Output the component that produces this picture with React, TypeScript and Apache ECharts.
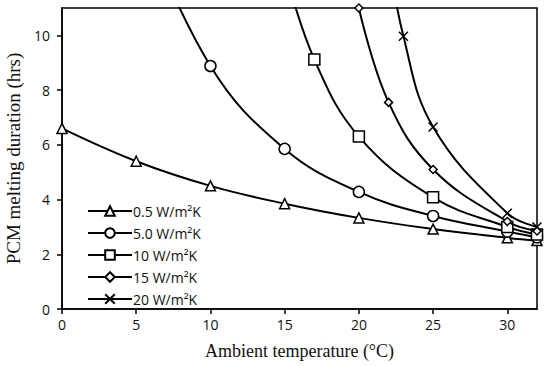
import React, { useEffect, useRef } from "react";
import * as echarts from "echarts";

const seriesNames = ["0.5 W/m²K", "5.0 W/m²K", "10 W/m²K", "15 W/m²K", "20 W/m²K"];
const s05: [number, number][] = [[0, 6.6], [5, 5.4], [10, 4.5], [15, 3.85], [20, 3.33], [25, 2.92], [30, 2.6], [32, 2.5]];
const s50: [number, number][] = [[5, 14.7], [10, 8.88], [15, 5.85], [20, 4.28], [25, 3.4], [30, 2.83], [32, 2.62]];
const s10: [number, number][] = [[15, 12.4], [17, 9.12], [20, 6.3], [25, 4.08], [30, 3.0], [32, 2.72]];
const s15: [number, number][] = [[20, 11.0], [22, 7.55], [25, 5.1], [30, 3.2], [32, 2.85]];
const s20: [number, number][] = [[22, 13.0], [23, 9.97], [25, 6.65], [30, 3.5], [32, 3.0]];
const allData = [s05, s50, s10, s15, s20];
const symbols = ["triangle", "circle", "rect", "diamond", "path://M0,0L10,10M10,0L0,10"];
const symbolSizes = [10, 11, 11, 8, 9];

export default function App() {
  const ref = useRef<HTMLDivElement>(null);
  useEffect(() => {
    const chart = echarts.init(ref.current!, null, { renderer: "svg" });
    chart.setOption({
      animation: false,
      backgroundColor: "#fff",
      grid: {
        left: 62, top: 8, right: 13, bottom: 57,
        containLabel: false, outerBoundsMode: "none",
        show: true, borderColor: "#000", borderWidth: 1.5,
      },
      legend: {
        left: 82,
        top: 199,
        orient: "vertical",
        itemWidth: 44,
        itemHeight: 12,
        itemGap: 8,
        textStyle: { fontFamily: "Open Sans", fontSize: 14, color: "#111", padding: [0, 0, 0, -4] },
        data: seriesNames,
      },
      xAxis: {
        type: "value",
        min: 0,
        max: 32,
        interval: 5,
        name: "Ambient temperature (°C)",
        nameLocation: "middle",
        nameGap: 33,
        nameTextStyle: { fontFamily: "Liberation Serif", fontSize: 18, color: "#111" },
        axisLine: { lineStyle: { color: "#000", width: 1.5 } },
        axisTick: { show: true, inside: false, length: 5, lineStyle: { color: "#000", width: 1.5 } },
        axisLabel: { fontFamily: "Open Sans", fontSize: 14, color: "#111", showMaxLabel: false, margin: 8 },
        splitLine: { show: false },
      },
      yAxis: {
        type: "value",
        min: 0,
        max: 11,
        interval: 2,
        name: "PCM melting duration (hrs)",
        nameLocation: "middle",
        nameGap: 34,
        nameTextStyle: { fontFamily: "Liberation Serif", fontSize: 19, color: "#111" },
        axisLine: { lineStyle: { color: "#000", width: 1.5 } },
        axisTick: { show: true, inside: false, length: 5, lineStyle: { color: "#000", width: 1.5 } },
        axisLabel: { fontFamily: "Open Sans", fontSize: 14, color: "#111", showMaxLabel: false, margin: 12 },
        splitLine: { show: false },
      },
      series: allData.map((d, i) => ({
        name: seriesNames[i],
        type: "line",
        data: d,
        smooth: 0.4,
        clip: true,
        symbol: symbols[i],
        symbolSize: symbolSizes[i],
        showAllSymbol: true,
        lineStyle: { color: "#000", width: 2 },
        itemStyle: { color: "#fff", borderColor: "#000", borderWidth: 1.5 },
        z: 2 + i,
      })),
    });
    return () => chart.dispose();
  }, []);
  return <div ref={ref} style={{ width: 550, height: 366, position: "absolute", left: 0, top: 0 }} />;
}
